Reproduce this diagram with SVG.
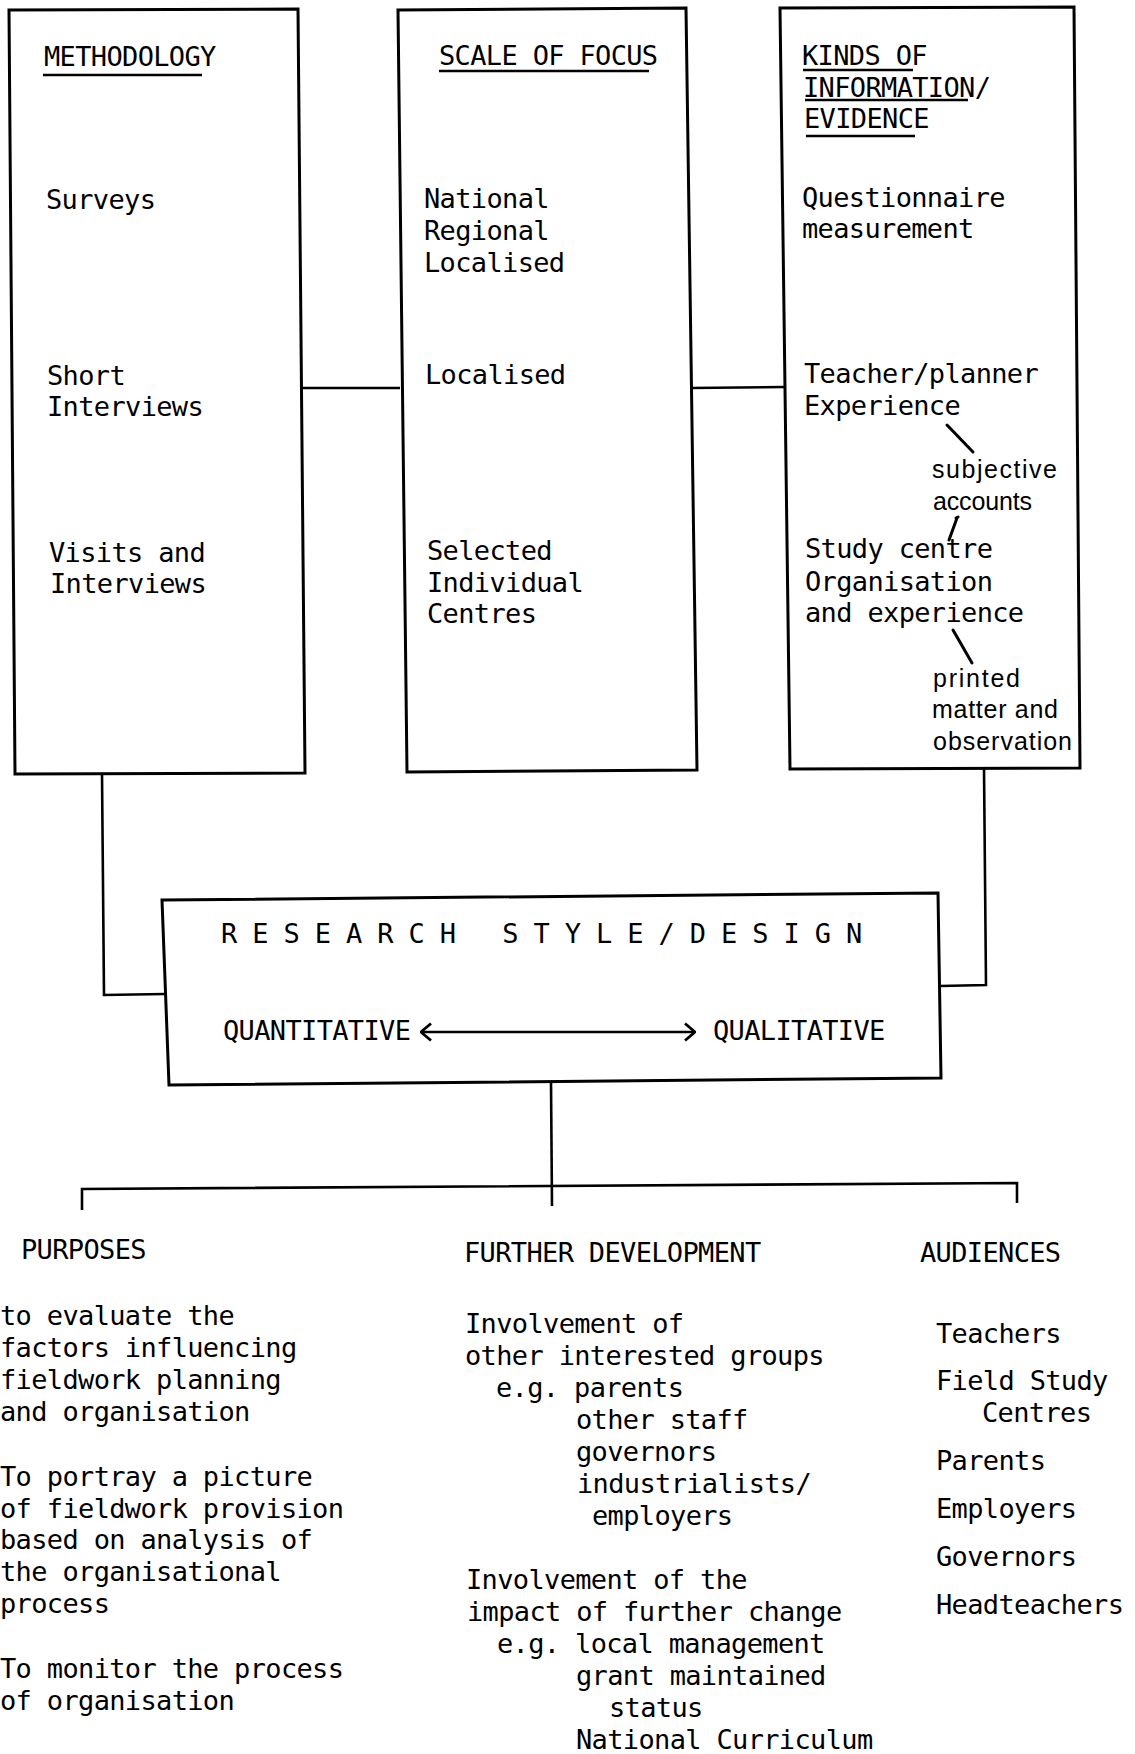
<svg xmlns="http://www.w3.org/2000/svg" width="1135" height="1754" viewBox="0 0 1135 1754">
<style>
.t{font-family:"DejaVu Sans Mono","Liberation Mono",monospace;font-size:27px;letter-spacing:-0.65px;fill:#000}
.n{font-family:"Liberation Sans Narrow","Liberation Sans",sans-serif;font-size:25px;fill:#000}
.box{fill:none;stroke:#000;stroke-width:3;stroke-linejoin:miter}
.ln{fill:none;stroke:#000;stroke-width:2.6}
.ul{fill:none;stroke:#000;stroke-width:2.4}
.an{fill:none;stroke:#000;stroke-width:3;stroke-linecap:round}
</style>
<defs>
<marker id="ah" viewBox="0 0 12 20" refX="11" refY="10" markerWidth="12" markerHeight="20" markerUnits="userSpaceOnUse" orient="auto-start-reverse">
<path d="M1,1.5 L11,10 L1,18.5" fill="none" stroke="#000" stroke-width="2.8"/>
</marker>
</defs>
<rect width="1135" height="1754" fill="#fff"/>

<g id="connectors">
<path class="ln" d="M302,388 L400,388"/>
<path class="ln" d="M691,388 L784,387"/>
<path class="ln" d="M102,774 L104,995 L165,994"/>
<path class="ln" d="M984,768 L986,985 L940,986"/>
<path class="ln" d="M551,1082 L552,1206"/>
<path class="ln" d="M82,1210 L82,1189 L1017,1183 L1017,1203"/>
</g>

<g id="box-methodology">
<path class="box" d="M9,10 L298,9 L305,773 L15,774 Z"/>
<text class="t" x="44" y="66">METHODOLOGY</text>
<path class="ul" d="M43,75 L202,75"/>
<text class="t" x="46" y="209">Surveys</text>
<text class="t" x="47" y="385">Short</text>
<text class="t" x="47" y="416">Interviews</text>
<text class="t" x="49" y="562">Visits and</text>
<text class="t" x="50" y="593">Interviews</text>
</g>

<g id="box-scale">
<path class="box" d="M398,10 L686,8 L697,770 L407,772 Z"/>
<text class="t" x="439" y="65">SCALE OF FOCUS</text>
<path class="ul" d="M439,71 L649,71"/>
<text class="t" x="424" y="208">National</text>
<text class="t" x="424" y="240">Regional</text>
<text class="t" x="424" y="272">Localised</text>
<text class="t" x="425" y="384">Localised</text>
<text class="t" x="427" y="560">Selected</text>
<text class="t" x="427" y="592">Individual</text>
<text class="t" x="427" y="623">Centres</text>
</g>

<g id="box-kinds">
<path class="box" d="M780,8 L1074,7 L1080,768 L790,769 Z"/>
<text class="t" x="802" y="65">KINDS OF</text>
<path class="ul" d="M803,70 L913,70"/>
<text class="t" x="803" y="97">INFORMATION/</text>
<path class="ul" d="M805,100 L968,100"/>
<text class="t" x="804" y="128">EVIDENCE</text>
<path class="ul" d="M806,136 L915,136"/>
<text class="t" x="802" y="207">Questionnaire</text>
<text class="t" x="802" y="238">measurement</text>
<text class="t" x="804" y="383">Teacher/planner</text>
<text class="t" x="804" y="415">Experience</text>
<path class="an" d="M947,425 L973,452"/>
<text class="n" x="932" y="478" textLength="125" lengthAdjust="spacing">subjective</text>
<text class="n" x="933" y="510" textLength="99" lengthAdjust="spacing">accounts</text>
<path class="an" d="M956,518 L958,517 M957,518 L949,540"/>
<text class="t" x="805" y="558">Study centre</text>
<text class="t" x="805" y="591">Organisation</text>
<text class="t" x="805" y="622">and experience</text>
<path class="an" d="M953,630 L972,663"/>
<text class="n" x="933" y="687" textLength="87" lengthAdjust="spacing">printed</text>
<text class="n" x="932" y="718" textLength="126" lengthAdjust="spacing">matter and</text>
<text class="n" x="933" y="750" textLength="139" lengthAdjust="spacing">observation</text>
</g>

<g id="box-research">
<path class="box" d="M162,900 L938,893 L941,1078 L169,1085 Z"/>
<text class="t" x="221" y="943" style="letter-spacing:15px">RESEARCH STYLE/DESIGN</text>
<text class="t" x="223" y="1040">QUANTITATIVE</text>
<path class="ln" d="M421,1032 L695,1032" marker-start="url(#ah)" marker-end="url(#ah)"/>
<text class="t" x="713" y="1040">QUALITATIVE</text>
</g>

<g id="col-purposes">
<text class="t" x="21" y="1259">PURPOSES</text>
<text class="t" x="0" y="1325">to evaluate the</text>
<text class="t" x="0" y="1357">factors influencing</text>
<text class="t" x="0" y="1389">fieldwork planning</text>
<text class="t" x="0" y="1421">and organisation</text>
<text class="t" x="0" y="1486">To portray a picture</text>
<text class="t" x="0" y="1518">of fieldwork provision</text>
<text class="t" x="0" y="1549">based on analysis of</text>
<text class="t" x="0" y="1581">the organisational</text>
<text class="t" x="0" y="1613">process</text>
<text class="t" x="0" y="1678">To monitor the process</text>
<text class="t" x="0" y="1710">of organisation</text>
</g>

<g id="col-further">
<text class="t" x="464" y="1262">FURTHER DEVELOPMENT</text>
<text class="t" x="465" y="1333">Involvement of</text>
<text class="t" x="465" y="1365">other interested groups</text>
<text class="t" x="496" y="1397">e.g. parents</text>
<text class="t" x="576" y="1429">other staff</text>
<text class="t" x="576" y="1461">governors</text>
<text class="t" x="577" y="1493">industrialists/</text>
<text class="t" x="592" y="1525">employers</text>
<text class="t" x="466" y="1589">Involvement of the</text>
<text class="t" x="467" y="1621">impact of further change</text>
<text class="t" x="497" y="1653">e.g. local management</text>
<text class="t" x="576" y="1685">grant maintained</text>
<text class="t" x="609" y="1717">status</text>
<text class="t" x="576" y="1749">National Curriculum</text>
</g>

<g id="col-audiences">
<text class="t" x="920" y="1262">AUDIENCES</text>
<text class="t" x="936" y="1343">Teachers</text>
<text class="t" x="936" y="1390">Field Study</text>
<text class="t" x="982" y="1422">Centres</text>
<text class="t" x="936" y="1470">Parents</text>
<text class="t" x="936" y="1518">Employers</text>
<text class="t" x="936" y="1566">Governors</text>
<text class="t" x="936" y="1614">Headteachers</text>
</g>
</svg>
